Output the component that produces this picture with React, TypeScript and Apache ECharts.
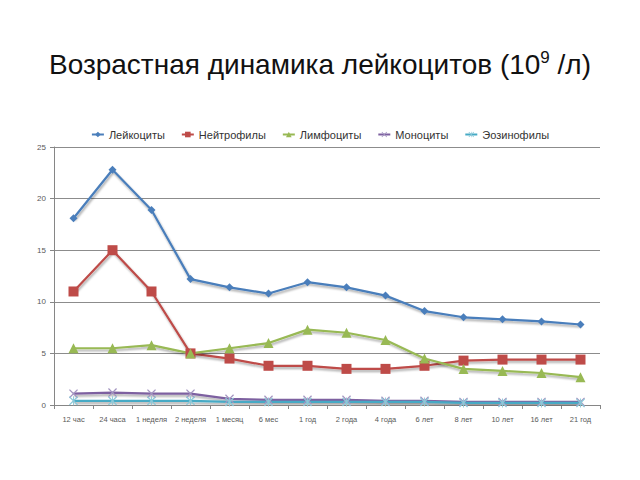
import React, { useEffect, useRef } from "react";
import * as echarts from "echarts";

const categories = ["12 час", "24 часа", "1 неделя", "2 неделя", "1 месяц", "6 мес", "1 год", "2 года", "4 года", "6 лет", "8 лет", "10 лет", "16 лет", "21 год"];
const leukocytes = [18.1, 22.8, 18.9, 12.2, 11.4, 10.8, 11.9, 11.4, 10.6, 9.1, 8.5, 8.3, 8.1, 7.8];
const neutrophils = [11, 15, 11, 5, 4.5, 3.8, 3.8, 3.5, 3.5, 3.8, 4.3, 4.4, 4.4, 4.4];
const lymphocytes = [5.5, 5.5, 5.8, 5.0, 5.5, 6.0, 7.3, 7.0, 6.3, 4.5, 3.5, 3.3, 3.1, 2.7];
const monocytes = [1.1, 1.2, 1.1, 1.1, 0.6, 0.5, 0.5, 0.5, 0.4, 0.4, 0.3, 0.3, 0.3, 0.3];
const eosinophils = [0.4, 0.4, 0.4, 0.4, 0.3, 0.3, 0.3, 0.3, 0.3, 0.3, 0.2, 0.2, 0.2, 0.2];
const yTicks = [0, 5, 10, 15, 20, 25];

const X_PATH = "path://M0,1 L1,0 L5,4 L9,0 L10,1 L6,5 L10,9 L9,10 L5,6 L1,10 L0,9 L4,5 Z";
const STAR_PATH = X_PATH + " M4.5,0 L5.5,0 L5.5,10 L4.5,10 Z";

export default function App() {
  const ref = useRef<HTMLDivElement>(null);
  useEffect(() => {
    if (!ref.current) return;
    const chart = echarts.init(ref.current, null, { renderer: "svg" });
    const shadow = { shadowColor: "rgba(0,0,0,0.35)", shadowBlur: 2, shadowOffsetX: 1, shadowOffsetY: 2 };
    const mk = (name: string, data: number[], color: string, symbol: string, size: number, markerColor?: string) => ({
      name,
      type: "line",
      data,
      symbol,
      symbolSize: size,
      lineStyle: { color, width: 2.2, ...shadow },
      itemStyle: { color: markerColor || color },
    });
    chart.setOption({
      animation: false,
      backgroundColor: "#fff",
      title: {
        text: "{a|Возрастная динамика лейкоцитов (10}{s|9}{a| /л)}",
        left: "center",
        top: 44,
        textStyle: {
          rich: {
            a: { fontFamily: "Liberation Sans", fontSize: 28, fontWeight: "normal", color: "#111" },
            s: { fontFamily: "Liberation Sans", fontSize: 17, fontWeight: "normal", color: "#111", padding: [0, 0, 14, 0] },
          },
        },
      },
      legend: {
        top: 124,
        left: "center",
        itemWidth: 12,
        itemHeight: 7,
        itemGap: 16,
        textStyle: { fontFamily: "Liberation Sans", fontSize: 11, color: "#333" },
        data: ["Лейкоциты", "Нейтрофилы", "Лимфоциты", "Моноциты", "Эозинофилы"],
      },
      grid: { left: 54, right: 40, top: 147, bottom: 75 },
      xAxis: {
        type: "category",
        data: categories,
        boundaryGap: true,
        axisLine: { lineStyle: { color: "#868686" } },
        axisTick: { show: true, interval: 0, length: 4, lineStyle: { color: "#868686" } },
        axisLabel: { interval: 0, fontFamily: "Liberation Sans", fontSize: 7.5, color: "#595959", margin: 10 },
      },
      yAxis: {
        type: "value",
        min: yTicks[0],
        max: yTicks[yTicks.length - 1],
        interval: 5,
        axisLine: { show: true, lineStyle: { color: "#868686" } },
        axisTick: { show: true, length: 4, lineStyle: { color: "#868686" } },
        axisLabel: { fontFamily: "Liberation Sans", fontSize: 8, color: "#595959", margin: 8 },
        splitLine: { lineStyle: { color: "#8c8c8c", width: 1.2 } },
      },
      series: [
        mk("Лейкоциты", leukocytes, "#4a7ebb", "diamond", 8),
        mk("Нейтрофилы", neutrophils, "#be4b48", "rect", 10),
        mk("Лимфоциты", lymphocytes, "#98b954", "triangle", 10),
        mk("Моноциты", monocytes, "#7d60a0", X_PATH, 9, "#a394c0"),
        mk("Эозинофилы", eosinophils, "#46aac5", STAR_PATH, 9, "#8cc8d8"),
      ],
    });
    return () => chart.dispose();
  }, []);
  return <div ref={ref} style={{ position: "absolute", left: 0, top: 0, width: 640, height: 480 }} />;
}
